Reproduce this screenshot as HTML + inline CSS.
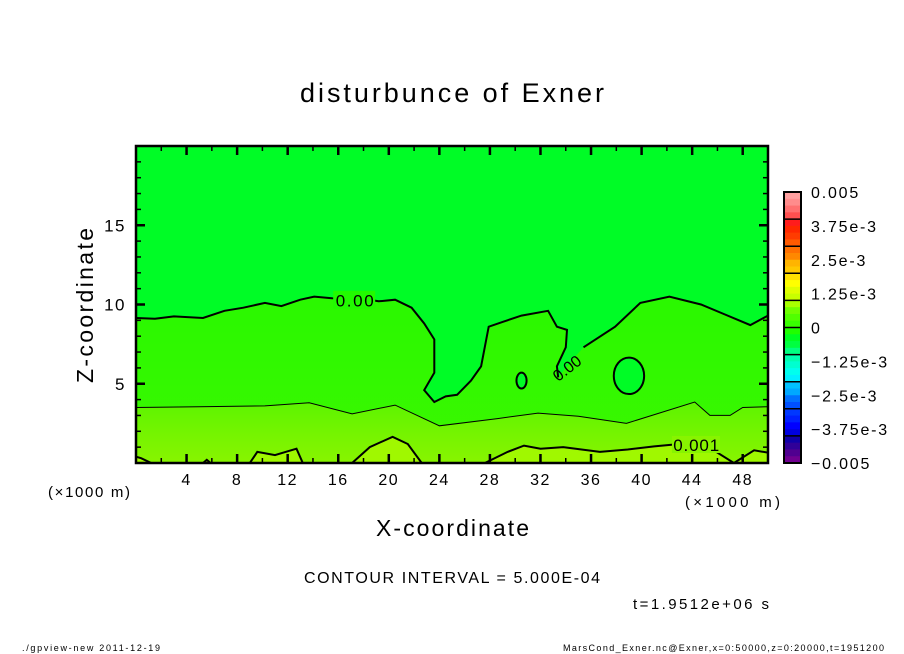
<!DOCTYPE html>
<html><head><meta charset="utf-8"><style>
html,body{margin:0;padding:0;background:#fff;width:904px;height:654px;overflow:hidden}
svg text{font-family:"Liberation Sans","DejaVu Sans",sans-serif;fill:#000}
</style></head><body>
<svg id="chart" width="904" height="654" viewBox="0 0 904 654" xmlns="http://www.w3.org/2000/svg">
<defs>
<clipPath id="plotclip"><rect x="136" y="146" width="632" height="317"/></clipPath>
<linearGradient id="g1" x1="0" y1="0" x2="0" y2="1"><stop offset="0" stop-color="#22fa00"/><stop offset="0.55" stop-color="#2cf800"/><stop offset="1" stop-color="#3cf700"/></linearGradient>
<linearGradient id="g2" x1="0" y1="0" x2="0" y2="1"><stop offset="0" stop-color="#5cf400"/><stop offset="0.5" stop-color="#74f400"/><stop offset="1" stop-color="#88f400"/></linearGradient>
</defs>
<text x="300" y="102" font-size="27" textLength="304" lengthAdjust="spacing">disturbunce of Exner</text>
<g id="plot" clip-path="url(#plotclip)"></g>
<g id="axes"></g>
<g id="cbar"></g>
<text x="93" y="383" font-size="23" textLength="155" lengthAdjust="spacing" transform="rotate(-90 93 383)">Z-coordinate</text>
<text x="376" y="536" font-size="23" textLength="153" lengthAdjust="spacing">X-coordinate</text>
<text x="48" y="497" font-size="15" textLength="82" lengthAdjust="spacing">(×1000 m)</text>
<text x="685" y="507" font-size="15" textLength="95" lengthAdjust="spacing">(×1000 m)</text>
<text x="304" y="583" font-size="16" textLength="296" lengthAdjust="spacing">CONTOUR INTERVAL = 5.000E-04</text>
<text x="633" y="609" font-size="15" textLength="136" lengthAdjust="spacing">t=1.9512e+06 s</text>
<text x="22" y="651" font-size="9" textLength="138" lengthAdjust="spacing">./gpview-new   2011-12-19</text>
<text x="563" y="651" font-size="9" textLength="321" lengthAdjust="spacing">MarsCond_Exner.nc@Exner,x=0:50000,z=0:20000,t=1951200</text>
</svg>
<script>
// data
const zeroX = [0,1.5,3,5.3,7,8.5,10.2,11.5,13,14.1,15.5,18,19.2,20.5,21.8,22.8,23.6,23.6,22.8,23.6,24.5,25.4,26.5,27.3,27.9,29,30.5,32.6,33.3,34.1,34,33.3,33.4,34.4,35.4,37.9,39.9,42.2,44.7,46.5,48.6,50];
const zeroZ = [9.15,9.1,9.25,9.15,9.6,9.8,10.1,9.9,10.3,10.5,10.4,10.35,10.2,10.3,9.8,8.8,7.8,5.7,4.6,3.85,4.2,4.3,5.2,6.1,8.6,8.9,9.3,9.6,8.6,8.4,7.3,6.1,5.4,6.4,7.3,8.6,10.1,10.5,10,9.4,8.7,9.3];
const ovalX = [30.5,39.0]; const ovalZ = [5.2,5.5]; const ovalRX = [0.4,1.2]; const ovalRZ = [0.5,1.15];
const halfX = [0,5,10.2,13.7,17.1,20.5,24,28.6,31.8,35,38.8,44.2,45.4,47,48,50];
const halfZ = [3.5,3.55,3.6,3.8,3.1,3.65,2.35,2.8,3.15,2.95,2.5,3.85,3.0,3.0,3.5,3.55];
const oneSegX = [[0,0.4,1.2],[5.3,5.6,5.9],[9.0,9.6,11,12.7,13.2],[17.1,18.5,20.3,21.5,22.6],[27.6,29.4,30.7,32,33.8,36.7,38.9,41,43,45.5,47.3],[47.3,48.9,50]];
const oneSegZ = [[0.4,0.3,0],[0,0.2,0],[0,0.7,0.5,0.9,0],[0,1.0,1.65,1.2,0],[0,0.7,1.1,0.9,1.0,0.7,0.85,1.05,1.2,0.9,0],[0,0.8,0.65]];
const cbLabels = ["0.005","3.75e-3","2.5e-3","1.25e-3","0","\u22121.25e-3","\u22122.5e-3","\u22123.75e-3","\u22120.005"];
const cbValues = [0.005,0.00375,0.0025,0.00125,0,-0.00125,-0.0025,-0.00375,-0.005];
const cbColors = ["#ffa0a0","#ff8c8c","#ff7070","#ff5050","#ff3838","#ff1c1c","#ff2800","#ff3c00","#ff5a00","#ff7000","#ff8800","#ffa000","#ffb400","#ffc800","#ffe000","#ffff00","#e0ff00","#c8ff00","#a8ff00","#90ff00","#70ff00","#50ff00","#38ff00","#20ff00","#00ff20","#00ff40","#00ff60","#00ff80","#00ffb0","#00ffd0","#00ffee","#00f0ff","#00c0ff","#00a8ff","#0090ff","#0070ff","#0050ff","#0038ff","#0020ff","#0000ff","#0000e0","#0000c0","#1000a8","#300098","#500090","#700090"];
const xTicks=[4,8,12,16,20,24,28,32,36,40,44,48];
const yTicks=[5,10,15];

const NS="http://www.w3.org/2000/svg";
const X0=136,X1=768,Y0=463,Y1=146;
const sx=v=>X0+(X1-X0)*v/50, sy=v=>Y0-(Y0-Y1)*v/20;
function mk(tag,attrs,parent){const e=document.createElementNS(NS,tag);for(const k in attrs)e.setAttribute(k,attrs[k]);parent.appendChild(e);return e;}
const plot=document.getElementById('plot'),axes=document.getElementById('axes'),cbar=document.getElementById('cbar');
const pts=(xs,zs)=>xs.map((x,i)=>sx(x).toFixed(1)+','+sy(zs[i]).toFixed(1)).join(' ');
const labIdx = 32;

let r=mk('rect',{x:X0,y:Y1,width:X1-X0,height:Y0-Y1,fill:'url(#g1)'},plot);


let p=mk('polygon',{points:pts(halfX,halfZ)+' '+sx(50)+','+sy(0)+' '+sx(0)+','+sy(0),fill:'url(#g2)'},plot);


for(let i=0;i<oneSegX.length;i++){
  let q=mk('polygon',{points:pts(oneSegX[i],oneSegZ[i])+' '+sx(oneSegX[i][oneSegX[i].length-1])+','+sy(-1)+' '+sx(oneSegX[i][0])+','+sy(-1),fill:'#a0f800'},plot);
  
  
}
p=mk('polygon',{points:pts(zeroX,zeroZ)+' '+sx(50)+','+sy(20)+' '+sx(0)+','+sy(20),fill:'#00fc26'},plot);


for(let i=0;i<ovalX.length;i++){
  let e=mk('ellipse',{cx:sx(ovalX[i]),cy:sy(ovalZ[i]),rx:sx(ovalRX[i])-X0,ry:Y0-sy(ovalRZ[i]),fill:'#00fc26',stroke:'#000','stroke-width':2},plot);
  
  
}
let l=mk('polyline',{points:pts(zeroX.slice(0,labIdx+1),zeroZ.slice(0,labIdx+1)),fill:'none',stroke:'#000','stroke-width':2},plot);


l=mk('polyline',{points:pts(zeroX.slice(labIdx+2),zeroZ.slice(labIdx+2)),fill:'none',stroke:'#000','stroke-width':2},plot);


l=mk('polyline',{points:pts(halfX,halfZ),fill:'none',stroke:'#000','stroke-width':1},plot);


for(let i=0;i<oneSegX.length;i++){
  l=mk('polyline',{points:pts(oneSegX[i],oneSegZ[i]),fill:'none',stroke:'#000','stroke-width':2},plot);
  
  
}
// contour labels
let bg=mk('rect',{x:sx(15.6),y:sy(10.3)-9,width:42,height:18,fill:'#22fa00'},plot);


let t=mk('text',{x:sx(15.8),y:sy(10.3)+7,'font-size':17,textLength:38,lengthAdjust:'spacing'},plot);t.textContent='0.00';


t=mk('text',{x:sx(33.4),y:sy(5.1),'font-size':16,transform:'rotate(-38 '+sx(33.4)+' '+sy(5.1)+')'},plot);t.textContent='0.00';


bg=mk('rect',{x:sx(42.4),y:sy(1.2)-8,width:48,height:17,fill:'#88f400'},plot);


t=mk('text',{x:sx(42.5),y:sy(1.2)+7,'font-size':17,textLength:46,lengthAdjust:'spacing'},plot);t.textContent='0.001';



// frame
let fr=mk('rect',{x:X0,y:Y1,width:X1-X0,height:Y0-Y1,fill:'none',stroke:'#000','stroke-width':2.5},axes);


for(let v=2;v<50;v+=2){
  const major=v%4===0, len=major?9:5, w=major?2.5:1.5;
  let a=mk('line',{x1:sx(v),x2:sx(v),y1:Y0,y2:Y0-len,stroke:'#000','stroke-width':w},axes);
  
  
  a=mk('line',{x1:sx(v),x2:sx(v),y1:Y1,y2:Y1+len,stroke:'#000','stroke-width':w},axes);
  
  
}
for(let v=1;v<20;v++){
  const major=v%5===0, len=major?9:5, w=major?2.5:1.5;
  let a=mk('line',{x1:X0,x2:X0+len,y1:sy(v),y2:sy(v),stroke:'#000','stroke-width':w},axes);
  
  
  a=mk('line',{x1:X1,x2:X1-len,y1:sy(v),y2:sy(v),stroke:'#000','stroke-width':w},axes);
  
  
}
xTicks.forEach(v=>{const e=mk('text',{x:sx(v),y:485,'font-size':16,'text-anchor':'middle','letter-spacing':1.5},axes);e.textContent=v;
  
  });
yTicks.forEach(v=>{const e=mk('text',{x:126,y:sy(v)+6,'font-size':17,'text-anchor':'end','letter-spacing':1.5},axes);e.textContent=v;
  
  });

// colorbar
const CB0=192,CB1=463,CX=784,CW=17;
const cy=v=>CB0+(CB1-CB0)*(0.005-v)/0.01;
const n=40;
for(let i=0;i<n;i++){
  const v0=0.005-i*0.01/n, v1=v0-0.01/n;
  const c=cbColors[Math.round(i*(cbColors.length-1)/(n-1))];
  const b=mk('rect',{x:CX,y:cy(v0),width:CW,height:cy(v1)-cy(v0)+0.5,fill:c},cbar);
  
  
}
for(let k=1;k<10;k++){
  const s=mk('line',{x1:CX,x2:CX+CW,y1:cy(0.005-k*0.001),y2:cy(0.005-k*0.001),stroke:'#000','stroke-width':1.5},cbar);
  
  
}
const cf=mk('rect',{x:CX,y:CB0,width:CW,height:CB1-CB0,fill:'none',stroke:'#000','stroke-width':2},cbar);


cbLabels.forEach((s,i)=>{const e=mk('text',{x:811,y:cy(cbValues[i])+6,'font-size':16,'letter-spacing':1.8},cbar);e.textContent=s;
  
  });
</script>
</body></html>
